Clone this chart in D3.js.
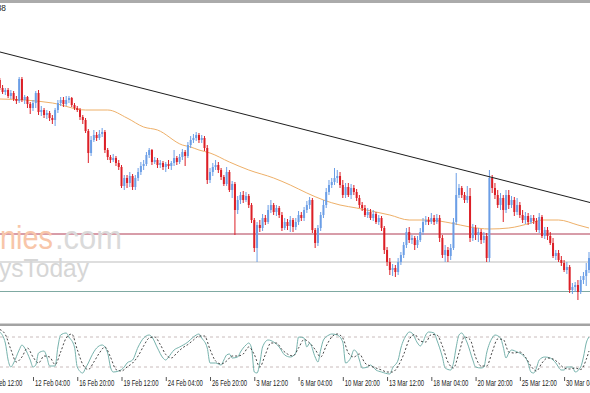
<!DOCTYPE html>
<html><head><meta charset="utf-8">
<script src="https://cdn.jsdelivr.net/npm/d3@7"></script>
<style>html,body{margin:0;padding:0;background:#fff;overflow:hidden}</style>
</head><body>
<svg id="c" width="590" height="393"></svg>
<script>
// ---- DATA (price in chart points, one entry per H4 bar) ----
const open=[420,412,408,410,404,407,401,399,421,400, 403,396,392,397,407,388,390,385,387,382, 380,390,397,400,396,400,402,395,392,390, 383,380,369,347,360,365,362,366,368,350, 343,340,342,337,333,314,322,317,324,313, 322,328,334,336,345,350,338,340,335,337, 333,336,334,337,342,338,343,348,344,355, 360,362,365,360,362,352,320,328,333,335, 330,323,316,328,310,316,290,300,305,300, 304,295,280,252,275,272,282,278,290,295, 288,292,285,272,278,274,280,273,278,285, 282,290,295,300,270,257,272,285,295,308, 315,318,322,324,315,305,313,305,312,308, 302,295,292,285,288,282,286,278,282,272, 250,238,230,232,228,238,245,255,268,260, 262,255,260,268,278,280,278,282,278,282, 262,245,250,244,252,278,305,312,305,300, 304,262,272,265,268,260,264,242,322,312, 305,295,302,290,305,295,300,288,295,285, 280,284,278,282,279,270,283,264,270,264, 257,244,247,240,237,230,233,210,213,215, 208,220,224,230];
const high=[422,415,412,412,410,409,404,423,423,405, 404,398,400,409,410,394,392,390,389,385, 392,400,403,403,404,404,403,397,394,392, 385,382,371,364,370,368,370,372,370,352, 345,346,344,340,335,325,325,328,326,325, 332,338,340,348,352,351,343,342,340,339, 338,340,339,350,344,346,351,350,358,364, 366,368,367,365,364,355,332,337,340,338, 332,325,333,330,319,318,304,308,309,308, 306,297,282,278,280,286,285,295,300,297, 295,294,288,282,281,284,282,282,289,288, 293,299,303,302,272,275,288,300,312,320, 322,332,330,328,320,317,317,316,315,311, 305,298,295,292,291,290,288,285,284,274, 253,242,236,235,242,248,258,272,273,265, 264,264,272,282,284,283,287,285,286,285, 265,255,253,256,282,327,316,314,308,314, 312,276,275,272,271,268,267,330,325,317, 310,307,305,310,310,304,303,302,298,290, 288,287,285,285,282,287,285,273,273,268, 262,250,250,244,240,238,235,217,218,220, 224,228,237,248];
const low=[410,406,405,402,401,399,396,397,398,396, 392,386,389,392,385,384,382,381,379,376, 374,387,394,393,394,397,393,390,388,380, 376,367,337,344,358,359,360,363,347,340, 337,338,334,330,312,310,312,313,310,310, 319,325,330,334,342,335,336,332,332,330, 328,331,330,334,335,336,340,334,342,352, 357,359,357,357,349,316,317,324,330,327, 320,314,314,308,302,265,286,296,297,298, 292,277,248,238,268,269,275,276,287,285, 284,282,269,270,270,268,268,270,275,279, 279,287,291,267,252,254,269,282,292,305, 312,315,317,312,302,302,303,301,305,299, 292,289,283,282,280,279,276,275,269,246, 234,225,224,223,225,235,242,252,257,256, 250,252,258,265,275,275,276,275,276,258, 242,238,238,240,250,275,302,302,297,297, 258,259,260,258,256,257,238,238,307,301, 292,290,278,287,291,292,284,285,282,277, 276,275,276,276,268,267,262,261,260,255, 242,240,238,234,228,226,207,206,208,200, 206,216,214,227];
const close=[412,408,410,404,407,401,399,421,400,403, 396,392,397,407,388,390,385,387,382,380, 390,397,400,396,400,402,395,392,390,383, 380,369,347,360,365,362,366,368,350,343, 340,342,337,333,314,322,317,324,313,322, 328,334,336,345,350,338,340,335,337,333, 336,334,337,342,338,343,348,344,355,360, 362,365,360,362,352,320,328,333,335,330, 323,316,328,310,316,290,300,305,300,304, 295,280,252,275,272,282,278,290,295,288, 292,285,272,278,274,280,273,278,285,282, 290,295,300,270,257,272,285,295,308,315, 318,322,324,315,305,313,305,312,308,302, 295,292,285,288,282,286,278,282,272,250, 238,230,232,228,238,245,255,268,260,262, 255,260,268,278,280,278,282,278,282,262, 245,250,244,252,278,305,312,305,300,304, 262,272,265,268,260,264,242,322,312,305, 295,302,290,305,295,300,288,295,285,280, 284,278,282,279,270,283,264,270,264,257, 244,247,240,237,230,233,210,213,215,208, 220,224,230,242];

// moving average [bar, value]
const maPoints=[[0,401],[9,400],[19,397],[31,390],[39,390],[46,382],[52,373],[57,370],[66,355],[69,353],[72,350],[76,347],[83,338],[90,330],[99,322],[105,315],[111,307],[117,300],[123,295],[129,292],[136,288],[141,285],[148,280],[155,280],[163,277],[170,273],[177,271],[184,272],[192,277],[196,280],[202,280],[209,275],[213,272]];
// trend line anchors [bar, value]
const trendPoints=[[-1,448.8],[214,297.1]];
// horizontal levels
const levelRed=266, levelGray=238, levelTeal=208.5;

// stochastic oscillator [bar, value]
const stochMain=[[0,90],[2,68],[3,34],[4,20],[5,28],[7,54],[8,64],[9,58],[11,34],[12,20],[13,24],[14,48],[16,52],[17,40],[18,22],[20,22],[21,60],[22,84],[24,88],[25,80],[27,60],[28,20],[30,8],[31,18],[32,28],[33,40],[35,58],[37,64],[39,48],[40,20],[41,10],[43,12],[45,20],[46,28],[48,34],[50,60],[52,78],[54,84],[55,80],[57,58],[59,38],[60,34],[61,40],[63,54],[65,60],[68,70],[70,80],[72,86],[73,78],[75,58],[76,28],[78,28],[80,24],[81,34],[82,44],[83,46],[84,38],[86,40],[87,50],[89,64],[90,68],[91,58],[92,10],[93,8],[94,28],[95,60],[97,74],[99,70],[101,60],[103,44],[105,40],[107,48],[108,80],[110,78],[111,60],[112,68],[114,40],[115,30],[116,54],[117,74],[119,84],[120,86],[122,84],[124,70],[125,28],[127,40],[128,54],[129,50],[130,34],[131,18],[133,20],[134,24],[136,14],[138,10],[141,6],[142,18],[144,34],[145,58],[147,84],[148,90],[149,88],[151,68],[152,62],[153,70],[154,84],[155,90],[157,88],[158,74],[160,40],[161,18],[163,14],[164,28],[165,60],[166,84],[167,88],[168,80],[169,68],[171,34],[172,20],[174,18],[175,20],[176,48],[178,78],[179,84],[181,78],[182,60],[183,38],[184,48],[185,54],[187,50],[189,44],[191,28],[192,10],[193,8],[194,18],[195,34],[197,40],[199,38],[200,34],[201,28],[203,14],[204,14],[205,20],[207,20],[208,10],[210,20],[211,40],[212,68],[213,80]];
const stochSignal=[[0,95],[2,85],[4,55],[6,30],[8,40],[10,58],[12,40],[14,28],[16,42],[18,40],[20,25],[22,50],[24,78],[26,86],[28,55],[30,25],[32,15],[34,30],[36,48],[38,60],[40,40],[42,15],[44,12],[46,20],[48,28],[50,42],[52,62],[54,78],[56,80],[58,65],[60,45],[62,38],[64,48],[66,58],[68,65],[70,74],[72,82],[74,82],[76,55],[78,32],[80,26],[82,32],[84,42],[86,42],[88,46],[90,60],[92,45],[94,20],[96,45],[98,68],[100,68],[102,55],[104,46],[106,42],[108,58],[110,75],[112,68],[114,55],[116,40],[118,62],[120,80],[122,86],[124,78],[126,48],[128,40],[130,46],[132,28],[134,22],[136,18],[138,14],[140,10],[142,10],[144,22],[146,45],[148,75],[150,85],[152,72],[154,70],[156,85],[158,84],[160,62],[162,30],[164,18],[166,48],[168,80],[170,75],[172,40],[174,22],[176,22],[178,50],[180,76],[182,75],[184,50],[186,48],[188,50],[190,40],[192,22],[194,12],[196,28],[198,38],[200,36],[202,28],[204,18],[206,16],[208,18],[210,15],[212,35],[213,52]];
const stochLevels=[80,20];

// time axis
const tickBars=[-4,12,28,44,60,76,92,108,124,140,156,172,188,204];
const tickLabels=["9 Feb 12:00","12 Feb 04:00","16 Feb 20:00","19 Feb 12:00","24 Feb 04:00","26 Feb 20:00","3 Mar 12:00","6 Mar 04:00","10 Mar 20:00","13 Mar 12:00","18 Mar 04:00","20 Mar 20:00","25 Mar 12:00","30 Mar 04:00"];

// ---- DRAW ----
const svg=d3.select("#c");
const W=590;
const x=d3.scaleLinear().domain([0,213]).range([-0.2,589]);
const y=d3.scaleLinear().domain([100,500]).range([400,0]);
const ys=d3.scaleLinear().domain([0,100]).range([377,327]);

const defs=svg.append("defs");
defs.append("clipPath").attr("id","mainClip").append("rect").attr("x",0).attr("y",4).attr("width",W).attr("height",319);
defs.append("clipPath").attr("id","stClip").append("rect").attr("x",0).attr("y",326).attr("width",W).attr("height",52);

svg.append("rect").attr("x",0).attr("y",0).attr("width",W).attr("height",393).attr("fill","#fff");
// top band
svg.append("rect").attr("x",0).attr("y",0).attr("width",W).attr("height",3).attr("fill","#ababab");

const main=svg.append("g").attr("clip-path","url(#mainClip)");

// horizontal levels
[[levelRed,"#b03a52"],[levelGray,"#bdbdbd"],[levelTeal,"#7fa9a2"]].forEach(([v,c])=>{
  main.append("line").attr("x1",0).attr("x2",W).attr("y1",y(v)).attr("y2",y(v))
    .attr("stroke",c).attr("stroke-width",1);
});

// watermark
const wm=main.append("g").attr("font-family","Liberation Sans, Arial, sans-serif");
wm.append("text").attr("x",0).attr("y",249).attr("font-size",33).attr("fill","#f8c6a9")
  .attr("textLength",53).attr("lengthAdjust","spacingAndGlyphs").text("nies");
wm.append("text").attr("x",55).attr("y",249).attr("font-size",33).attr("fill","#dadada")
  .attr("textLength",67).attr("lengthAdjust","spacingAndGlyphs").text(".com");
wm.append("text").attr("x",-1).attr("y",277).attr("font-size",25.5).attr("fill","#d6d6d6")
  .attr("textLength",90).attr("lengthAdjust","spacingAndGlyphs").text("ysToday");

// moving average
main.append("path").datum(maPoints)
  .attr("d",d3.line().x(d=>x(d[0])).y(d=>y(d[1])).curve(d3.curveMonotoneX))
  .attr("fill","none").attr("stroke","#eeb069").attr("stroke-width",1);

// candles
const up="#6b9ee6", dn="#dc1f26";
const cg=main.append("g");
const idx=d3.range(close.length);
cg.selectAll("line.w").data(idx).join("line").attr("class","w")
  .attr("x1",i=>x(i)).attr("x2",i=>x(i)).attr("y1",i=>y(high[i])).attr("y2",i=>y(low[i]))
  .attr("stroke",i=>close[i]>=open[i]?up:dn).attr("stroke-width",1);
cg.selectAll("rect.b").data(idx).join("rect").attr("class","b")
  .attr("x",i=>x(i)-1).attr("width",2)
  .attr("y",i=>y(Math.max(open[i],close[i])))
  .attr("height",i=>Math.max(1,Math.abs(y(open[i])-y(close[i]))))
  .attr("fill",i=>close[i]>=open[i]?up:dn);

// trend line
main.append("path").datum(trendPoints)
  .attr("d",d3.line().x(d=>x(d[0])).y(d=>y(d[1])))
  .attr("fill","none").attr("stroke","#1c1c1c").attr("stroke-width",1.1);

// top-left label
svg.append("text").attr("x",6).attr("y",11).attr("text-anchor","end")
  .attr("font-family","Liberation Sans, Arial, sans-serif").attr("font-size",8.4).attr("fill","#222")
  .text("88");

// separator
svg.append("rect").attr("x",0).attr("y",323.5).attr("width",W).attr("height",2.5).attr("fill","#a3a3a3");

// stochastic panel
const st=svg.append("g").attr("clip-path","url(#stClip)");
stochLevels.forEach(v=>{
  st.append("line").attr("x1",0).attr("x2",W).attr("y1",ys(v)).attr("y2",ys(v))
    .attr("stroke","#c9bcbc").attr("stroke-width",1).attr("stroke-dasharray","3,3");
});
st.append("path").datum(stochMain)
  .attr("d",d3.line().x(d=>x(d[0])).y(d=>ys(d[1])).curve(d3.curveMonotoneX))
  .attr("fill","none").attr("stroke","#77b3ad").attr("stroke-width",1);
st.append("path").datum(stochSignal)
  .attr("d",d3.line().x(d=>x(d[0])).y(d=>ys(d[1])).curve(d3.curveMonotoneX))
  .attr("fill","none").attr("stroke","#333").attr("stroke-width",0.9).attr("stroke-dasharray","2,2");

// time axis
const ax=svg.append("g").attr("transform","translate(0,377)")
  .call(d3.axisBottom(x).tickValues(tickBars).tickFormat((d,i)=>tickLabels[i]).tickSize(4));
ax.select(".domain").remove();
ax.selectAll(".tick line").attr("stroke","#555");
ax.selectAll(".tick text").attr("text-anchor","start").attr("x",2).attr("y",3).attr("dy","0.71em")
  .attr("transform","scale(0.71,1)")
  .attr("font-family","Liberation Sans, Arial, sans-serif").attr("font-size",8.4).attr("fill","#222");
</script>
</body></html>
